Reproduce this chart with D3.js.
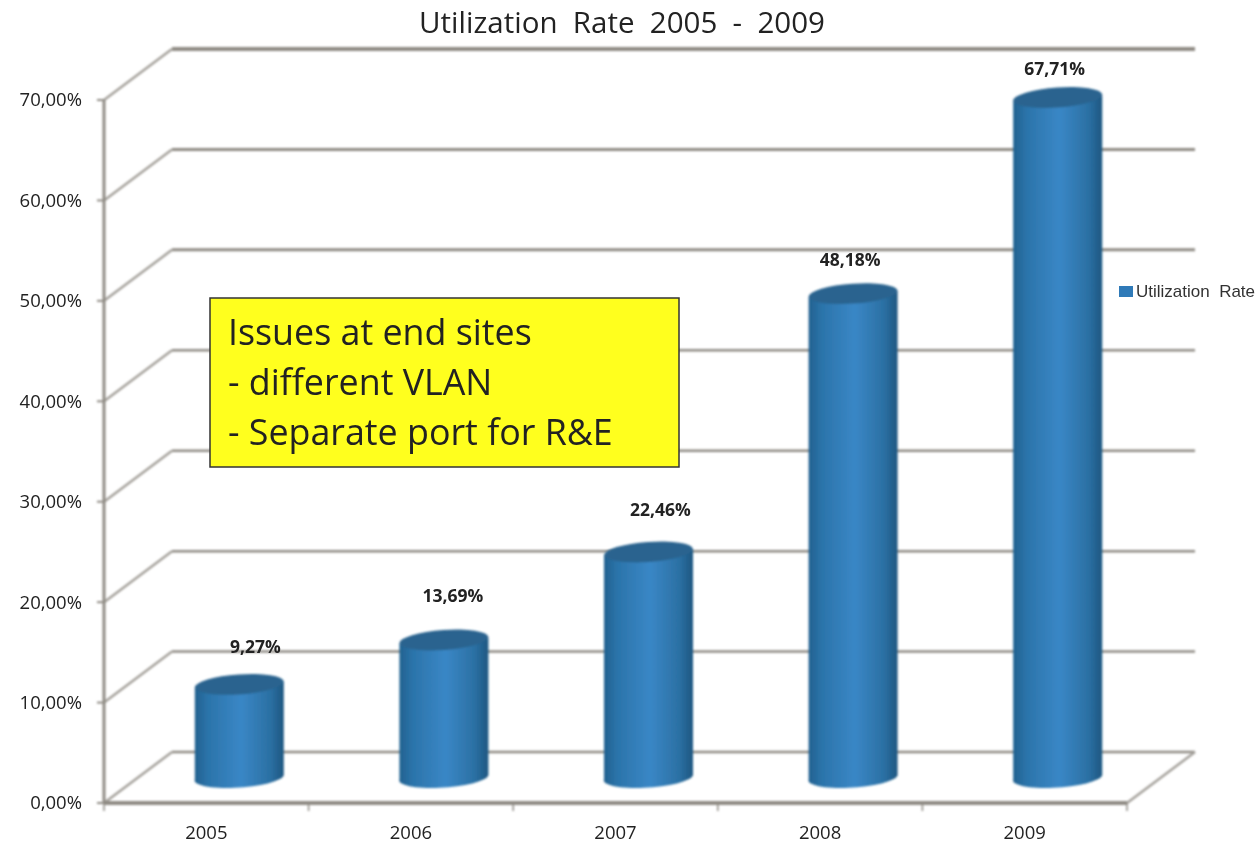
<!DOCTYPE html>
<html>
<head>
<meta charset="utf-8">
<script src="https://cdn.jsdelivr.net/npm/d3@7"></script>
<style>
    html, body { margin: 0; padding: 0; background: #fff; }
    svg { display: block; }
</style>
</head>
<body>
<div id="chart"></div>
<script>
// values
const years = ["2005", "2006", "2007", "2008", "2009"];
const utilization = [9.27, 13.69, 22.46, 48.18, 67.71];
const yTicks = [0, 10, 20, 30, 40, 50, 60, 70];
const seriesName = "Utilization  Rate";
const chartTitle = "Utilization  Rate  2005  -  2009";
const noteLines = ["Issues at end sites", "- different VLAN", "- Separate port for R&E"];

const width = 1259, height = 844;

// the back wall sits up and to the right of the front axes
const depthX = 68, depthY = -51;

const svg = d3.select("#chart").append("svg")
    .attr("width", width)
    .attr("height", height)
    .style("font-family", "'Open Sans', sans-serif");

const defs = svg.append("defs");

const barGradient = defs.append("linearGradient").attr("id", "barSide");
barGradient.append("stop").attr("offset", "0%").attr("stop-color", "#22618f");
barGradient.append("stop").attr("offset", "15%").attr("stop-color", "#2b74aa");
barGradient.append("stop").attr("offset", "52%").attr("stop-color", "#3a87c6");
barGradient.append("stop").attr("offset", "85%").attr("stop-color", "#2b70a3");
barGradient.append("stop").attr("offset", "100%").attr("stop-color", "#1d5680");

// the source is a soft screenshot
defs.append("filter").attr("id", "soft")
    .append("feGaussianBlur").attr("stdDeviation", 0.8);
defs.append("filter").attr("id", "softText")
    .append("feGaussianBlur").attr("stdDeviation", 0.4);

const x = d3.scaleBand().domain(years).range([104, 1127]);
const y = d3.scaleLinear().domain([0, 70]).range([803, 100]);

const wall = svg.append("g").attr("filter", "url(#soft)");
const gridColor = "#8f8b84";

// back wall lines, the upper ones are heavier in the source
const gridWidths = [2.5, 2.5, 2.5, 2.5, 2.5, 3, 3, 4];
yTicks.forEach((t, i) => {
    wall.append("line")
        .attr("x1", x.range()[0] + depthX).attr("x2", x.range()[1] + depthX)
        .attr("y1", y(t) + depthY).attr("y2", y(t) + depthY)
        .attr("stroke", gridColor)
        .attr("stroke-width", gridWidths[i]);
    wall.append("line")
        .attr("x1", x.range()[0]).attr("x2", x.range()[0] + depthX)
        .attr("y1", y(t)).attr("y2", y(t) + depthY)
        .attr("stroke", "#a5a29c")
        .attr("stroke-width", 2.5);
});

// floor edge on the right
wall.append("line")
    .attr("x1", x.range()[1]).attr("x2", x.range()[1] + depthX)
    .attr("y1", y(0)).attr("y2", y(0) + depthY)
    .attr("stroke", "#a5a29c")
    .attr("stroke-width", 2.5);

// front axes
wall.append("line")
    .attr("x1", x.range()[0]).attr("x2", x.range()[0])
    .attr("y1", y(70)).attr("y2", y(0))
    .attr("stroke", gridColor)
    .attr("stroke-width", 3);
wall.append("line")
    .attr("x1", x.range()[0]).attr("x2", x.range()[1])
    .attr("y1", y(0)).attr("y2", y(0))
    .attr("stroke", gridColor)
    .attr("stroke-width", 4);

yTicks.forEach(t => {
    wall.append("line")
        .attr("x1", x.range()[0] - 7).attr("x2", x.range()[0])
        .attr("y1", y(t)).attr("y2", y(t))
        .attr("stroke", gridColor)
        .attr("stroke-width", 2);
});

years.concat("end").forEach((d, i) => {
    const tx = x.range()[0] + i * x.step();
    wall.append("line")
        .attr("x1", tx).attr("x2", tx)
        .attr("y1", y(0)).attr("y2", y(0) + 8)
        .attr("stroke", gridColor)
        .attr("stroke-width", 1.5);
});

// cylinders stand halfway into the depth of the floor
const barHalf = 44.5, barRy = 10, tilt = -4;
const bars = svg.append("g").attr("filter", "url(#soft)");

years.forEach((year, i) => {
    const cx = x(year) + x.bandwidth() / 2 + depthX / 2 - 1;
    const topY = y(utilization[i]) + depthY / 2;
    const baseY = y(0) + depthY / 2 + 2;
    const g = bars.append("g");

    g.append("path")
        .attr("d", `M${cx - barHalf},${topY + 3} L${cx - barHalf},${baseY}`
            + ` A${barHalf},${barRy} ${tilt} 0 0 ${cx + barHalf},${baseY - 4}`
            + ` L${cx + barHalf},${topY - 3} Z`)
        .attr("fill", "url(#barSide)");

    g.append("ellipse")
        .attr("cx", cx).attr("cy", topY)
        .attr("rx", barHalf).attr("ry", barRy)
        .attr("transform", `rotate(${tilt} ${cx} ${topY})`)
        .attr("fill", "#29638f");
});

const labels = svg.append("g").attr("filter", "url(#softText)");

// data labels were moved by hand in the source
const labelShift = [[16, -38], [9, -44], [12, -42], [-3, -34], [-3, -29]];
labels.append("g").selectAll("text")
    .data(utilization)
    .join("text")
    .attr("x", (d, i) => x(years[i]) + x.bandwidth() / 2 + depthX / 2 - 1 + labelShift[i][0])
    .attr("y", (d, i) => y(d) + depthY / 2 + labelShift[i][1])
    .attr("dy", "0.35em")
    .attr("text-anchor", "middle")
    .attr("font-size", 17.5)
    .attr("font-weight", "bold")
    .attr("fill", "#222")
    .text(d => d.toFixed(2).replace(".", ",") + "%");

// tick labels
const yAxis = labels.append("g")
    .attr("transform", "translate(" + x.range()[0] + ",0)")
    .call(d3.axisLeft(y).tickValues(yTicks).tickSize(0).tickPadding(22)
        .tickFormat(d => d.toFixed(2).replace(".", ",") + "%"));
yAxis.select(".domain").remove();
yAxis.selectAll("text")
    .attr("font-family", "'Open Sans', sans-serif")
    .attr("font-size", 18.5)
    .attr("fill", "#222");

const xAxis = labels.append("g")
    .attr("transform", "translate(0," + y(0) + ")")
    .call(d3.axisBottom(x).tickSize(0).tickPadding(23));
xAxis.select(".domain").remove();
xAxis.selectAll("text")
    .attr("font-family", "'Open Sans', sans-serif")
    .attr("font-size", 18.5)
    .attr("fill", "#222");

// title
labels.append("text")
    .attr("x", 622)
    .attr("y", 33)
    .attr("text-anchor", "middle")
    .attr("font-size", 29.5)
    .attr("fill", "#222")
    .style("white-space", "pre")
    .text(chartTitle);

// legend
svg.append("rect")
    .attr("x", 1119).attr("y", 286)
    .attr("width", 14).attr("height", 11)
    .attr("fill", "#2f7ab8");
labels.append("text")
    .attr("x", 1136)
    .attr("y", 297)
    .attr("font-family", "'Liberation Sans', sans-serif")
    .attr("font-size", 17)
    .attr("fill", "#333")
    .style("white-space", "pre")
    .text(seriesName);

// yellow note
svg.append("rect")
    .attr("x", 210).attr("y", 298)
    .attr("width", 469).attr("height", 169)
    .attr("fill", "#ffff1e")
    .attr("stroke", "#333")
    .attr("stroke-width", 1.5);

svg.append("g").attr("filter", "url(#softText)").selectAll("text")
    .data(noteLines)
    .join("text")
    .attr("x", 228)
    .attr("y", (d, i) => 345 + i * 50)
    .attr("font-size", 35.8)
    .attr("fill", "#222")
    .text(d => d);
</script>
</body>
</html>
